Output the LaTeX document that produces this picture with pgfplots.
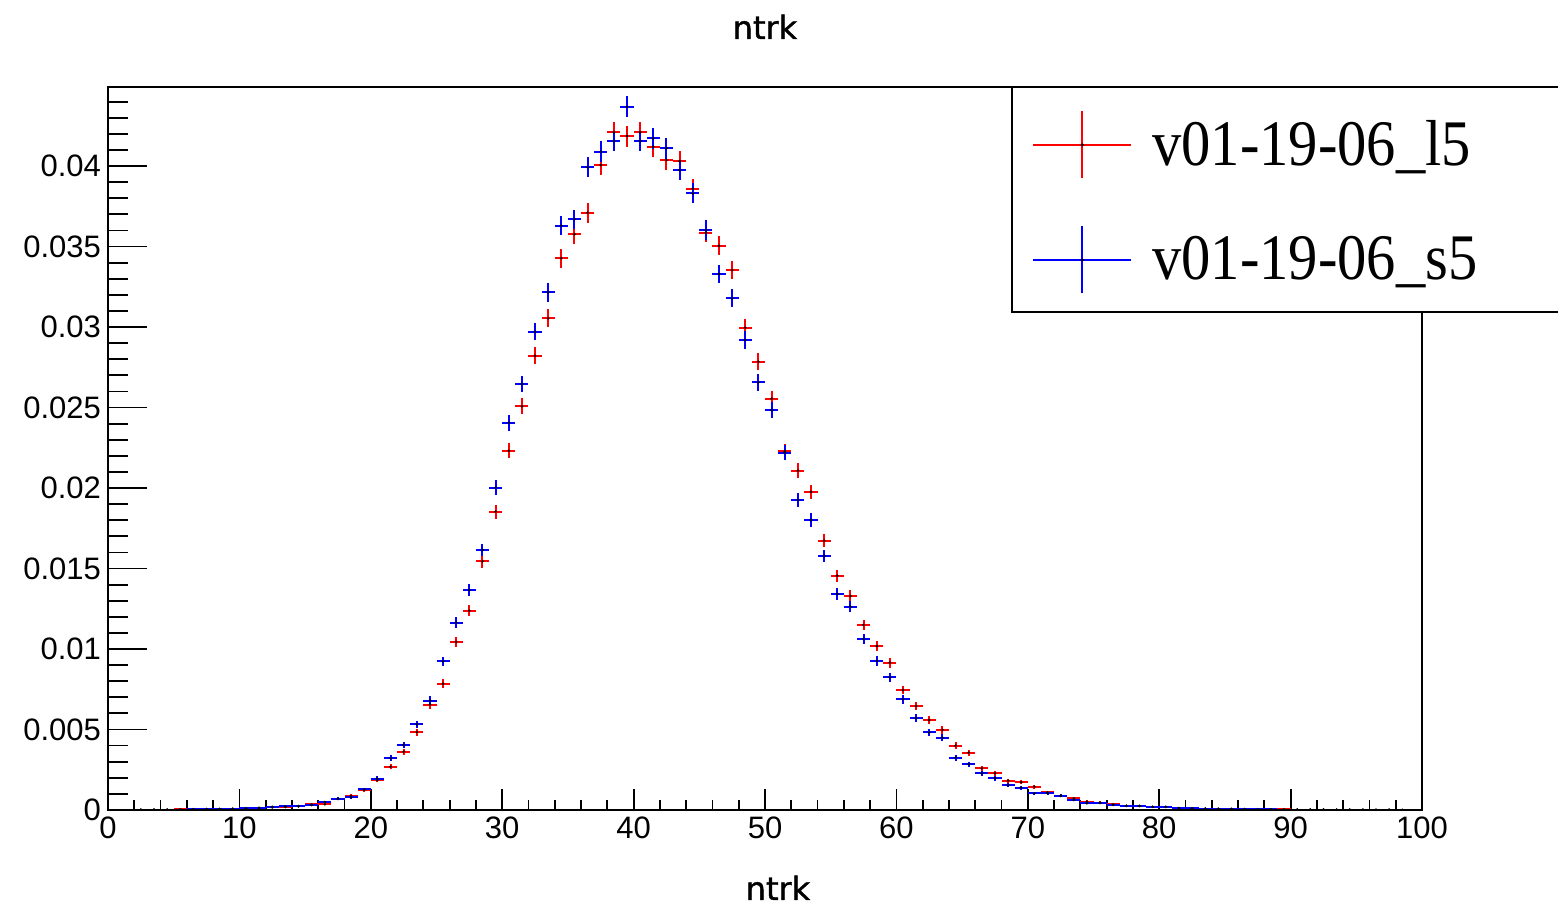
\documentclass[border=0pt]{standalone}
\usepackage{fontspec}
\usepackage{pgfplots}
\pgfplotsset{compat=1.18}
\usepackage{pgfplotstable}
\setmainfont{Liberation Sans}
\newfontfamily\tickfont{Liberation Sans}
\newfontfamily\titlefont[FakeBold=1.2]{DejaVu Sans}
\newfontfamily\legfont[FakeStretch=0.9]{Liberation Serif}

\pgfplotstableread{
x y e
2.5 0.00002 0.000014
3.5 0.00003 0.000017
4.5 0.00003 0.000017
5.5 0.00004 0.00002
6.5 0.00005 0.000022
7.5 0.00006 0.000025
8.5 0.00007 0.000026
9.5 0.00008 0.000028
10.5 0.0001 0.000032
11.5 0.00012 0.000035
12.5 0.00016 0.00004
13.5 0.00018 0.000042
14.5 0.00022 0.000047
15.5 0.00035 0.000059
16.5 0.00035 0.000059
17.5 0.00068 0.000082
18.5 0.00087 0.000093
19.5 0.00125 0.000112
20.5 0.00186 0.000136
21.5 0.00269 0.000164
22.5 0.00362 0.00019
23.5 0.00484 0.00022
24.5 0.00655 0.000256
25.5 0.00785 0.00028
26.5 0.01043 0.000323
27.5 0.01238 0.000352
28.5 0.01545 0.000393
29.5 0.01853 0.00043
30.5 0.02232 0.000472
31.5 0.02508 0.0005
32.5 0.02822 0.000531
33.5 0.03054 0.000552
34.5 0.03427 0.000585
35.5 0.03576 0.000598
36.5 0.0371 0.000609
37.5 0.04006 0.000632
38.5 0.04209 0.000648
39.5 0.04186 0.000647
40.5 0.04209 0.000648
41.5 0.0412 0.000641
42.5 0.04037 0.000635
43.5 0.04031 0.000634
44.5 0.03859 0.000621
45.5 0.03586 0.000598
46.5 0.03505 0.000592
47.5 0.03354 0.000579
48.5 0.02996 0.000547
49.5 0.02785 0.000527
50.5 0.02555 0.000505
51.5 0.02228 0.000472
52.5 0.02108 0.000459
53.5 0.01977 0.000444
54.5 0.01673 0.000409
55.5 0.01455 0.000381
56.5 0.01329 0.000364
57.5 0.01149 0.000339
58.5 0.01019 0.000319
59.5 0.00915 0.000302
60.5 0.00745 0.000273
61.5 0.00646 0.000254
62.5 0.00559 0.000236
63.5 0.00497 0.000223
64.5 0.004 0.0002
65.5 0.00356 0.000189
66.5 0.00259 0.000161
67.5 0.00228 0.000151
68.5 0.00182 0.000135
69.5 0.00172 0.000131
70.5 0.00145 0.00012
71.5 0.0011 0.000105
72.5 0.0009 0.000095
73.5 0.00072 0.000085
74.5 0.00052 0.000072
75.5 0.00046 0.000068
76.5 0.00035 0.000059
77.5 0.00027 0.000052
78.5 0.00027 0.000052
79.5 0.0002 0.000045
80.5 0.00018 0.000042
81.5 0.00012 0.000035
82.5 0.0001 0.000032
83.5 0.00009 0.00003
84.5 0.00008 0.000028
85.5 0.00007 0.000026
86.5 0.00005 0.000022
87.5 0.00004 0.00002
88.5 0.00004 0.00002
89.5 0.00004 0.00002
90.5 0.00003 0.000017
91.5 0.00003 0.000017
92.5 0.00003 0.000017
93.5 0.00002 0.000014
94.5 0.00003 0.000017
95.5 0.00002 0.000014
96.5 0.00002 0.000014
97.5 0.00002 0.000014
}\redtab

\pgfplotstableread{
x y e
2.5 0.00002 0.000014
3.5 0.00002 0.000014
4.5 0.00003 0.000017
5.5 0.00003 0.000017
6.5 0.00004 0.00002
7.5 0.00005 0.000022
8.5 0.00006 0.000025
9.5 0.00008 0.000028
10.5 0.0001 0.000032
11.5 0.00014 0.000037
12.5 0.0002 0.000045
13.5 0.00022 0.000047
14.5 0.00025 0.00005
15.5 0.0003 0.000055
16.5 0.0005 0.000071
17.5 0.0007 0.000084
18.5 0.00078 0.000088
19.5 0.00128 0.000113
20.5 0.00195 0.00014
21.5 0.00321 0.000179
22.5 0.00404 0.000201
23.5 0.00532 0.00023
24.5 0.0068 0.000261
25.5 0.00923 0.000304
26.5 0.01164 0.000341
27.5 0.01366 0.000369
28.5 0.01615 0.000402
29.5 0.02002 0.000447
30.5 0.02406 0.00049
31.5 0.02646 0.000514
32.5 0.02971 0.000545
33.5 0.03215 0.000567
34.5 0.03629 0.000602
35.5 0.03669 0.000605
36.5 0.03992 0.000631
37.5 0.04089 0.000639
38.5 0.04155 0.000644
39.5 0.04368 0.00066
40.5 0.04155 0.000644
41.5 0.04172 0.000645
42.5 0.0411 0.000641
43.5 0.03975 0.00063
44.5 0.0383 0.000618
45.5 0.03602 0.0006
46.5 0.03329 0.000577
47.5 0.03178 0.000563
48.5 0.02919 0.00054
49.5 0.02656 0.000515
50.5 0.02484 0.000498
51.5 0.0222 0.000471
52.5 0.01925 0.000438
53.5 0.01801 0.000424
54.5 0.01578 0.000397
55.5 0.01342 0.000366
56.5 0.01263 0.000355
57.5 0.01062 0.000326
58.5 0.00927 0.000304
59.5 0.00824 0.000287
60.5 0.00687 0.000262
61.5 0.0057 0.000239
62.5 0.00482 0.000219
63.5 0.00449 0.000212
64.5 0.00325 0.00018
65.5 0.00284 0.000168
66.5 0.00228 0.000151
67.5 0.00197 0.00014
68.5 0.00155 0.000124
69.5 0.00139 0.000118
70.5 0.00104 0.000102
71.5 0.00104 0.000102
72.5 0.00087 0.000093
73.5 0.00062 0.000079
74.5 0.00041 0.000064
75.5 0.00043 0.000066
76.5 0.00031 0.000056
77.5 0.00025 0.00005
78.5 0.00024 0.000049
79.5 0.0002 0.000045
80.5 0.0002 0.000045
81.5 0.00012 0.000035
82.5 0.0001 0.000032
83.5 0.00008 0.000028
84.5 0.00007 0.000026
85.5 0.00007 0.000026
86.5 0.00006 0.000025
87.5 0.00005 0.000022
88.5 0.00004 0.00002
89.5 0.00003 0.000017
90.5 0.00003 0.000017
91.5 0.00003 0.000017
92.5 0.00003 0.000017
93.5 0.00002 0.000014
94.5 0.00002 0.000014
95.5 0.00002 0.000014
96.5 0.00002 0.000014
97.5 0.00002 0.000014
98.5 0.00002 0.000014
}\bluetab

\pgfplotsset{
  common/.style={
    width=657pt, height=361.5pt, scale only axis,
    at={(54pt,49.5pt)}, anchor=south west,
    xmin=0, xmax=100, ymin=0, ymax=0.04491,
    axis line style={draw=none},
    tick align=inside,
    tick style={black, line width=0.9pt},
    ticklabel style={font=\tickfont\fontsize{15.5}{18}\selectfont},
    scaled y ticks=false, scaled x ticks=false,
  }
}

\begin{document}
\begin{tikzpicture}
\useasboundingbox (0,0) rectangle (779pt,454.5pt);

% y ticks (long)
\begin{axis}[common,
  hide x axis,
  ytick pos=left,
  ytick={0,0.005,0.01,0.015,0.02,0.025,0.03,0.035,0.04},
  yticklabels={0,0.005,0.01,0.015,0.02,0.025,0.03,0.035,0.04},
  minor y tick num=4,
  major tick length=19.5pt, minor tick length=10pt,
]
\end{axis}

% extra minor y ticks above 0.04
\begin{axis}[common,
  hide x axis,
  ytick pos=left,
  ytick={0.041,0.042,0.043,0.044},
  yticklabels={},
  major tick length=10pt,
]
\end{axis}

% main axis with x ticks and data
\begin{axis}[common,
  clip=false,
  xtick pos=bottom,
  ytick=\empty,
  xtick={0,10,20,30,40,50,60,70,80,90,100},
  xticklabels={0,10,20,30,40,50,60,70,80,90,100},
  minor x tick num=4,
  major tick length=10.5pt, minor tick length=5pt,
  legend style={at={(0.7032,0.9682)}, anchor=north west, draw=none, fill=none,
    inner sep=0pt, row sep=23pt, column sep=8pt,
    font=\legfont\fontsize{32.5}{36}\selectfont},
  legend cell align=left,
  legend image code/.code={
    \draw[line width=1pt] (0pt,0pt) -- (49pt,0pt);
    \draw[line width=1pt] (24.5pt,-16.75pt) -- (24.5pt,16.75pt);
    \fill[black] (24.5pt,0pt) circle (0.5pt);
  },
]
\addplot[red, only marks, mark=*, mark size=0.4pt, mark options={black},
  error bars/.cd, x dir=both, x fixed=0.5, y dir=both, y explicit,
  error mark=none, error bar style={line width=1pt}]
  table[x=x, y=y, y error=e] {\redtab};
\addlegendentry{v01-19-06\_l5}
\addplot[blue, only marks, mark=*, mark size=0.4pt, mark options={black},
  error bars/.cd, x dir=both, x fixed=0.5, y dir=both, y explicit,
  error mark=none, error bar style={line width=1pt}]
  table[x=x, y=y, y error=e] {\bluetab};
\addlegendentry{v01-19-06\_s5}

% frame
\draw[line width=1pt, line cap=rect] (axis description cs:0,0) rectangle (axis description cs:1,1);
% legend box
\draw[line width=1pt, fill=white] (axis description cs:0.688,1) rectangle (axis description cs:1.3,0.6888);
\end{axis}

\node[font=\titlefont\fontsize{16}{19}\selectfont, anchor=base, inner sep=0pt] at (382.5pt,435pt) {ntrk};
\node[font=\titlefont\fontsize{16}{19}\selectfont, anchor=base, inner sep=0pt] at (389pt,4.5pt) {ntrk};
\end{tikzpicture}
\end{document}
